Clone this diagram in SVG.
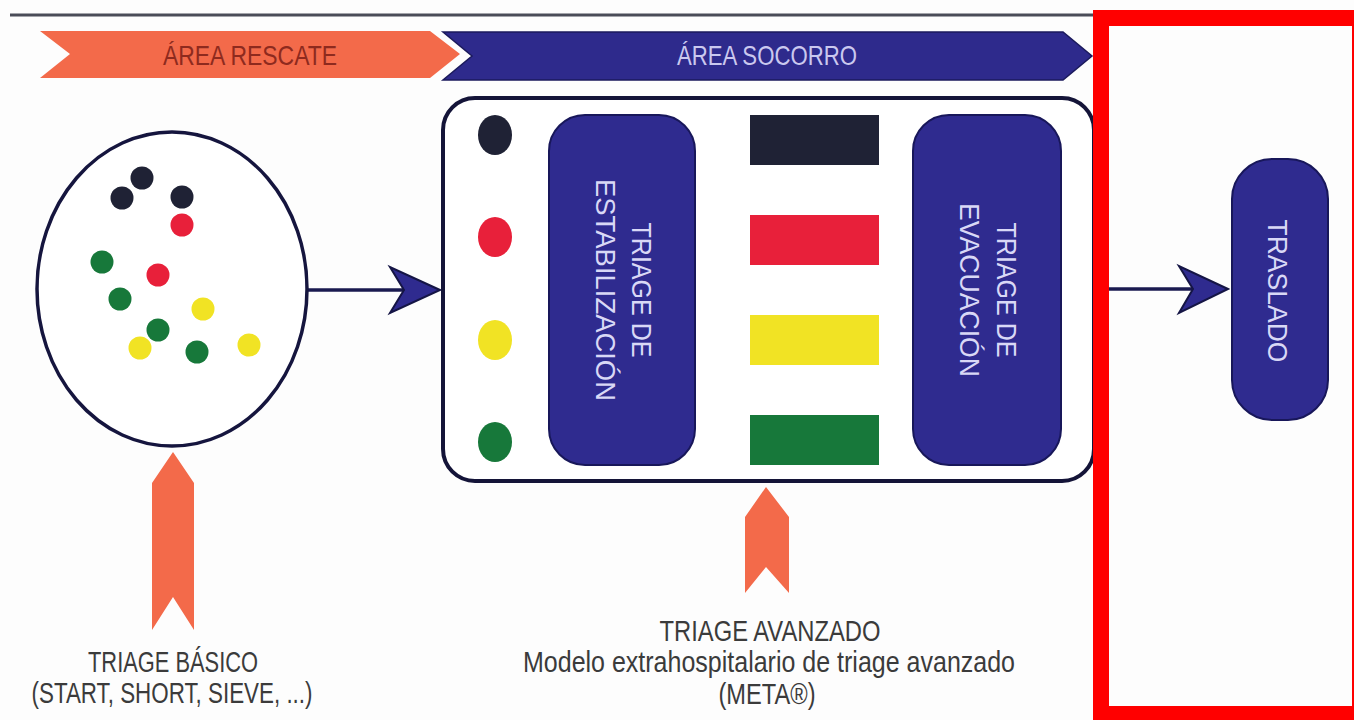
<svg xmlns="http://www.w3.org/2000/svg" width="1354" height="720" viewBox="0 0 1354 720">
  <style>
    .lbl { font-family: "Liberation Sans", Arial, sans-serif; }
    .vt { font-family: "Liberation Sans", Arial, sans-serif; font-size: 28px; fill: #d9d8f6; text-anchor: middle; }
    .bt { font-family: "Liberation Sans", Arial, sans-serif; font-size: 29px; fill: #3b3b3b; text-anchor: middle; }
    .bluebox { fill: #2f2b8f; stroke: #18175a; stroke-width: 2; }
    .orange { fill: #f36a4a; }
    .conn { stroke: #1a1a50; stroke-width: 3.5; fill: none; }
    .head { fill: #2f2b8f; stroke: #151545; stroke-width: 2; stroke-linejoin: miter; }
    .dk { fill: #1f2235; }
    .rd { fill: #e8203a; }
    .yl { fill: #f1e324; }
    .gr { fill: #17783a; }
  </style>
  <rect x="0" y="0" width="1354" height="720" fill="#fdfdfd"/>
  <line x1="10" y1="15" x2="1093" y2="15" stroke="#4a4c58" stroke-width="3"/>

  <g id="banner-rescate">
    <polygon class="orange" points="40,31 430,31 460,54 430,78 40,78 70,54"/>
    <text class="lbl" x="250" y="65" font-size="28" fill="#8e2a1e" text-anchor="middle" textLength="174" lengthAdjust="spacingAndGlyphs">ÁREA RESCATE</text>
  </g>
  <g id="banner-socorro">
    <polygon points="443,32 1063,32 1092,56 1063,80 443,80 472,56" fill="#2e2a8c" stroke="#1b1a5c" stroke-width="1.5"/>
    <text class="lbl" x="767" y="65" font-size="28" fill="#cac8ef" text-anchor="middle" textLength="180" lengthAdjust="spacingAndGlyphs">ÁREA SOCORRO</text>
  </g>

  <g id="connectors">
    <line class="conn" x1="308" y1="290" x2="420" y2="290"/>
    <polygon class="head" points="440,290 390,267 404,290 390,313"/>
    <line class="conn" x1="1093" y1="289" x2="1212" y2="289"/>
    <polygon class="head" points="1228,289 1179,266 1193,289 1179,313"/>
  </g>

  <g id="node-triage-basico-circle">
    <ellipse cx="172" cy="289" rx="135" ry="157" fill="#ffffff" stroke="#15153e" stroke-width="3.5"/>
    <circle class="dk" cx="122" cy="198" r="11.5"/>
    <circle class="dk" cx="142" cy="178" r="11.5"/>
    <circle class="dk" cx="182" cy="197" r="11.5"/>
    <circle class="rd" cx="182" cy="225" r="11.5"/>
    <circle class="rd" cx="158" cy="275" r="11.5"/>
    <circle class="gr" cx="102" cy="262" r="11.5"/>
    <circle class="gr" cx="120" cy="299" r="11.5"/>
    <circle class="yl" cx="203" cy="309" r="11.5"/>
    <circle class="yl" cx="140" cy="348" r="11.5"/>
    <circle class="gr" cx="158" cy="330" r="11.5"/>
    <circle class="gr" cx="197" cy="352" r="11.5"/>
    <circle class="yl" cx="249" cy="345" r="11.5"/>
  </g>

  <g id="node-area-socorro-box">
    <rect x="443" y="98" width="651" height="383" rx="32" fill="#ffffff" stroke="#141438" stroke-width="4"/>
    <ellipse class="dk" cx="495" cy="135" rx="17" ry="20"/>
    <ellipse class="rd" cx="495" cy="237" rx="17" ry="20"/>
    <ellipse class="yl" cx="495" cy="340" rx="17" ry="20"/>
    <ellipse class="gr" cx="495" cy="442" rx="17" ry="20"/>
    <rect x="750" y="115" width="129" height="50" fill="#1f2235"/>
    <rect x="750" y="215" width="129" height="50" fill="#e8203a"/>
    <rect x="750" y="315" width="129" height="50" fill="#f1e324"/>
    <rect x="750" y="415" width="129" height="50" fill="#17783a"/>
  </g>

  <g id="node-triage-estabilizacion">
    <rect class="bluebox" x="549" y="115" width="146" height="350" rx="36"/>
    <g transform="translate(624,290) rotate(90)">
      <text class="vt" x="0" y="-8" textLength="135" lengthAdjust="spacingAndGlyphs">TRIAGE DE</text>
      <text class="vt" x="0" y="28" textLength="222" lengthAdjust="spacingAndGlyphs">ESTABILIZACIÓN</text>
    </g>
  </g>

  <g id="node-triage-evacuacion">
    <rect class="bluebox" x="913" y="115" width="148" height="350" rx="36"/>
    <g transform="translate(988,290) rotate(90)">
      <text class="vt" x="0" y="-9" textLength="135" lengthAdjust="spacingAndGlyphs">TRIAGE DE</text>
      <text class="vt" x="0" y="28" textLength="174" lengthAdjust="spacingAndGlyphs">EVACUACIÓN</text>
    </g>
  </g>

  <g id="node-traslado">
    <rect class="bluebox" x="1232" y="159" width="96" height="261" rx="40"/>
    <g transform="translate(1278,291) rotate(90)">
      <text class="vt" x="0" y="10" textLength="143" lengthAdjust="spacingAndGlyphs">TRASLADO</text>
    </g>
  </g>

  <g id="node-triage-basico">
    <polygon class="orange" points="173,452 194,483 194,630 173,597 152,630 152,483"/>
    <text class="bt" x="173" y="672" textLength="170" lengthAdjust="spacingAndGlyphs">TRIAGE BÁSICO</text>
    <text class="bt" x="172" y="703" textLength="281" lengthAdjust="spacingAndGlyphs">(START, SHORT, SIEVE, ...)</text>
  </g>

  <g id="node-triage-avanzado">
    <polygon class="orange" points="766,487 789,517 789,593 766,567 745,593 745,517"/>
    <text class="bt" x="770" y="641" textLength="221" lengthAdjust="spacingAndGlyphs">TRIAGE AVANZADO</text>
    <text class="bt" x="769" y="672" textLength="492" lengthAdjust="spacingAndGlyphs">Modelo extrahospitalario de triage avanzado</text>
    <text class="bt" x="767" y="704" textLength="97" lengthAdjust="spacingAndGlyphs">(META®)</text>
  </g>

  <path id="highlight-frame" fill="#ff0000" fill-rule="evenodd" d="M1093,10 H1354 V720 H1093 Z M1109,26 V706 H1352 V26 Z"/>
</svg>
